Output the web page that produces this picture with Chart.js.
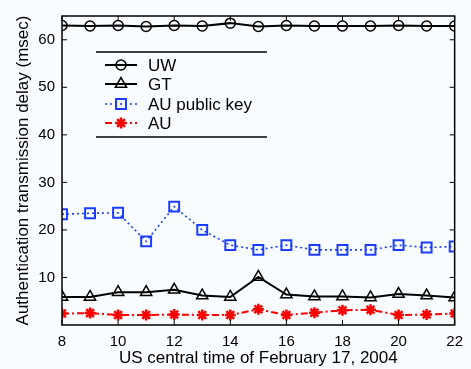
<!DOCTYPE html>
<html><head><meta charset="utf-8">
<script src="https://cdn.jsdelivr.net/npm/chart.js@4/dist/chart.umd.min.js"></script>
<style>html,body{margin:0;padding:0;background:#f9fcfe;}#wrap{width:471px;height:369px;}</style>
</head><body><div id="wrap"><canvas id="c" width="471" height="369"></canvas></div>
<script>
const hours = [8, 9, 10, 11, 12, 13, 14, 15, 16, 17, 18, 19, 20, 21, 22];
const uw = [63.0, 62.9, 63.0, 62.8, 63.0, 62.9, 63.5, 62.8, 63.0, 62.9, 62.9, 62.9, 63.0, 62.9, 62.9];
const gt = [5.9, 5.9, 6.9, 6.9, 7.4, 6.2, 5.9, 10.1, 6.4, 6.0, 6.0, 5.8, 6.5, 6.2, 5.8];
const auPublicKey = [23.3, 23.5, 23.6, 17.6, 24.9, 20.0, 16.8, 15.8, 16.8, 15.8, 15.8, 15.8, 16.8, 16.3, 16.5];
const au = [2.4, 2.5, 2.1, 2.1, 2.2, 2.1, 2.1, 3.3, 2.1, 2.6, 3.1, 3.2, 2.1, 2.2, 2.4];
const xTicks = [8, 10, 12, 14, 16, 18, 20, 22];
const yTicks = [10, 20, 30, 40, 50, 60];
const seriesNames = ['UW', 'GT', 'AU public key', 'AU'];

const FONT = '"Liberation Sans", Arial, Helvetica, sans-serif';
const pts = arr => arr.map((v, i) => ({x: hours[i], y: v}));

const datasets = [
  {label: seriesNames[0], data: pts(uw), borderColor: '#000', backgroundColor: 'transparent',
   borderWidth: 2, pointStyle: 'circle', pointRadius: 5, pointBorderWidth: 1.5, pointBorderColor: '#000', pointBackgroundColor: 'transparent'},
  {label: seriesNames[1], data: pts(gt), borderColor: '#000', backgroundColor: 'transparent',
   borderWidth: 2, pointStyle: 'triangle', pointRadius: 6.5, pointBorderWidth: 1.5, pointBorderColor: '#000', pointBackgroundColor: 'transparent'},
  {label: seriesNames[2], data: pts(auPublicKey), borderColor: '#1a3cff', backgroundColor: 'transparent',
   borderWidth: 1.6, borderDash: [2, 3], pointStyle: 'rect', pointRadius: 7, pointBorderWidth: 2, pointBorderColor: '#1a3cff', pointBackgroundColor: 'transparent'},
  {label: seriesNames[3], data: pts(au), borderColor: '#ff0000', backgroundColor: 'transparent',
   borderWidth: 2, borderDash: [7, 3, 2, 3], pointStyle: 'star', pointRadius: 5.5, pointBorderWidth: 2.5, pointBorderColor: '#ff0000', pointBackgroundColor: 'transparent'}
];

const framePlugin = {
  id: 'frame',
  afterDraw(chart) {
    const ctx = chart.ctx, a = chart.chartArea;
    const xs = chart.scales.x, ys = chart.scales.y;
    ctx.save();
    ctx.strokeStyle = '#000';
    ctx.lineWidth = 1.5;
    ctx.strokeRect(a.left, a.top, a.right - a.left, a.bottom - a.top);
    ctx.lineWidth = 1;
    const tl = 5;
    xTicks.forEach(t => {
      const x = xs.getPixelForValue(t);
      ctx.beginPath(); ctx.moveTo(x, a.bottom); ctx.lineTo(x, a.bottom - tl);
      ctx.moveTo(x, a.top); ctx.lineTo(x, a.top + tl); ctx.stroke();
    });
    yTicks.forEach(t => {
      const y = ys.getPixelForValue(t);
      ctx.beginPath(); ctx.moveTo(a.left, y); ctx.lineTo(a.left + tl, y);
      ctx.moveTo(a.right, y); ctx.lineTo(a.right - tl, y); ctx.stroke();
    });
    // legend
    const lx0 = a.left + 34, lx1 = a.left + 205;
    const ly0 = a.top + 36, ly1 = a.top + 121;
    ctx.lineWidth = 1.5;
    ctx.beginPath(); ctx.moveTo(lx0, ly0); ctx.lineTo(lx1, ly0);
    ctx.moveTo(lx0, ly1); ctx.lineTo(lx1, ly1); ctx.stroke();
    const rows = [a.top + 49, a.top + 68, a.top + 88, a.top + 107];
    const s0 = a.left + 43, s1 = a.left + 75, tx = a.left + 86;
    datasets.forEach((d, i) => {
      const y = rows[i];
      ctx.save();
      ctx.strokeStyle = d.borderColor; ctx.lineWidth = d.borderWidth;
      ctx.setLineDash(d.borderDash || []);
      ctx.beginPath(); ctx.moveTo(s0, y); ctx.lineTo(s1, y); ctx.stroke();
      ctx.setLineDash([]);
      ctx.strokeStyle = d.pointBorderColor; ctx.fillStyle = 'rgba(0,0,0,0)';
      ctx.lineWidth = d.pointBorderWidth;
      if (Chart.helpers && Chart.helpers.drawPoint) {
        Chart.helpers.drawPoint(ctx, {pointStyle: d.pointStyle, radius: d.pointRadius, rotation: 0, borderWidth: d.pointBorderWidth}, (s0 + s1) / 2, y);
      }
      ctx.restore();
      ctx.fillStyle = '#000';
      ctx.font = '17px ' + FONT;
      ctx.textBaseline = 'middle';
      ctx.textAlign = 'left';
      ctx.fillText(d.label, tx, y + 1);
    });
    ctx.restore();
  }
};

new Chart(document.getElementById('c'), {
  type: 'line',
  data: {datasets},
  options: {
    responsive: false,
    animation: false,
    layout: {padding: {left: 0, right: 10, top: 14, bottom: 0}},
    plugins: {legend: {display: false}, tooltip: {enabled: false}},
    scales: {
      x: {
        type: 'linear', min: 8, max: 22,
        grid: {display: false, drawTicks: false},
        border: {display: false},
        afterBuildTicks: s => { s.ticks = xTicks.map(v => ({value: v})); },
        afterFit: s => { s.height = 44; },
        ticks: {color: '#000', padding: 8, font: {family: FONT, size: 15}, maxRotation: 0},
        title: {display: true, text: 'US central time of February 17, 2004', color: '#000',
                font: {family: FONT, size: 17}, padding: {top: 0, bottom: 0}}
      },
      y: {
        type: 'linear', min: 0, max: 65,
        grid: {display: false, drawTicks: false},
        border: {display: false},
        afterBuildTicks: s => { s.ticks = yTicks.map(v => ({value: v})); },
        afterFit: s => { s.width = 62; },
        ticks: {color: '#000', padding: 7, font: {family: FONT, size: 15}},
        title: {display: true, text: 'Authentication transmission delay (msec)', color: '#000',
                font: {family: FONT, size: 17}, padding: {top: 13, bottom: 0}}
      }
    }
  },
  plugins: [framePlugin]
});
</script></body></html>
